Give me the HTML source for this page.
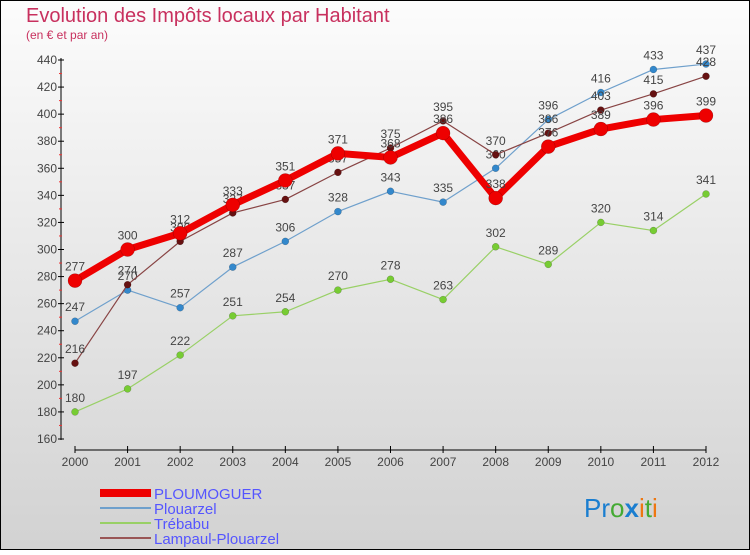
<!DOCTYPE html>
<html><head><meta charset="utf-8"><style>
body{margin:0}
#c{width:750px;height:550px;position:relative;font-family:"Liberation Sans","DejaVu Sans",sans-serif}
</style></head><body>
<div id="c">
<svg id="s" width="750" height="550" xmlns="http://www.w3.org/2000/svg">
<defs><linearGradient id="bg" x1="0" y1="0" x2="0" y2="1"><stop offset="0" stop-color="#fcfcfc"/><stop offset="1" stop-color="#d2d2d2"/></linearGradient></defs>
<rect x="0.5" y="0.5" width="749" height="549" fill="url(#bg)" stroke="#000"/>
<text x="26" y="22" font-size="20" fill="#c8305e">Evolution des Impôts locaux par Habitant</text>
<text x="26" y="39" font-size="12" fill="#c8305e">(en € et par an)</text>
<g id="axes"></g><g id="series"></g>
<g font-size="15" fill="#5555ff">
<rect x="100" y="489" width="51" height="8" fill="#e00"/>
<text x="154" y="499">PLOUMOGUER</text>
<line x1="100" y1="508" x2="151" y2="508" stroke="#6fa0cc" stroke-width="2"/>
<text x="154" y="514">Plouarzel</text>
<line x1="100" y1="523" x2="151" y2="523" stroke="#99d066" stroke-width="2"/>
<text x="154" y="529">Trébabu</text>
<line x1="100" y1="538" x2="151" y2="538" stroke="#995555" stroke-width="2"/>
<text x="154" y="544">Lampaul-Plouarzel</text>
</g>
<text x="584" y="517" font-size="26"><tspan fill="#1a7ed0">Pr</tspan><tspan fill="#44aa33">o</tspan><tspan fill="#1a7ed0" font-weight="bold">x</tspan><tspan fill="#ee7711">i</tspan><tspan fill="#44aa33">t</tspan><tspan fill="#ee7711">i</tspan></text>
</svg></div>
<script>
const years=["2000","2001","2002","2003","2004","2005","2006","2007","2008","2009","2010","2011","2012"];
const yTicks=[160,180,200,220,240,260,280,300,320,340,360,380,400,420,440];
const ploumoguer=[277,300,312,333,351,371,368,386,338,376,389,396,399];
const plouarzel=[247,270,257,287,306,328,343,335,360,396,416,433,437];
const trebabu=[180,197,222,251,254,270,278,263,302,289,320,314,341];
const lampaul=[216,274,306,327,337,357,375,395,370,386,403,415,428];
const NS="http://www.w3.org/2000/svg";
const X=i=>75+i*(706-75)/(years.length-1);
const Y=v=>439-(v-160)*(439-60)/280;
function mk(t,a,p){const e=document.createElementNS(NS,t);for(const k in a)e.setAttribute(k,a[k]);p.appendChild(e);return e;}
const ax=document.getElementById('axes');
mk('line',{x1:61,y1:58,x2:61,y2:440,stroke:'#000'},ax);
mk('line',{x1:75,y1:450,x2:706,y2:450,stroke:'#000'},ax);
yTicks.forEach(v=>{
 mk('line',{x1:58,y1:Y(v),x2:64,y2:Y(v),stroke:'#000'},ax);
 if(v<440) mk('line',{x1:59,y1:Y(v+10),x2:62,y2:Y(v+10),stroke:'#e33'},ax);
 const t=mk('text',{x:57,y:Y(v)+4,'text-anchor':'end','font-size':12,fill:'#444'},ax);t.textContent=v;
 
 
});
years.forEach((y,i)=>{
 mk('line',{x1:X(i),y1:446,x2:X(i),y2:453,stroke:'#000'},ax);
 const t=mk('text',{x:X(i),y:466,'text-anchor':'middle','font-size':12,fill:'#444'},ax);t.textContent=y;
 
 
});
const sg=document.getElementById('series');
function draw(d,name,col,w,r,dot){
 const g=mk('g',{},sg);
 
 
 const pl=mk('polyline',{points:d.map((v,i)=>X(i)+','+Y(v)).join(' '),fill:'none',stroke:col,'stroke-width':w,'stroke-linejoin':'round'},g);
 
 d.forEach((v,i)=>{
  const c=mk('circle',{cx:X(i),cy:Y(v),r:r,fill:dot,stroke:'rgba(0,0,0,0.3)','stroke-width':0.5},g);
  
  
  const t=mk('text',{x:X(i),y:Y(v)-10,'text-anchor':'middle','font-size':12,fill:'#444'},g);t.textContent=v;
  
 });
}
draw(trebabu,'trebabu','#99d066',1.2,3.5,'#77cc33');
draw(plouarzel,'plouarzel','#6fa0cc',1.2,3.5,'#3388cc');
draw(lampaul,'lampaul','#884444',1.2,3.5,'#661111');
draw(ploumoguer,'ploumoguer','#ee0000',7,7,'#ee0000');
</script>
</body></html>
